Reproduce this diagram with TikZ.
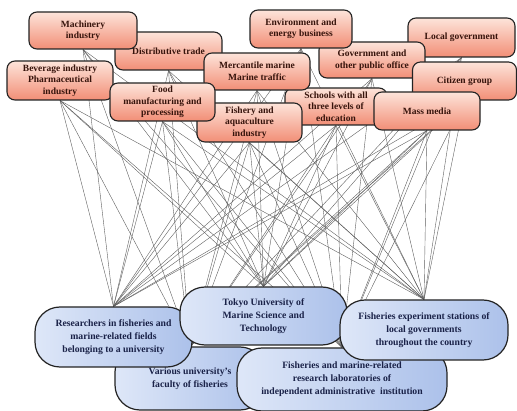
\documentclass[tikz,border=0pt]{standalone}
\usepackage{fontspec}
\setmainfont{Liberation Serif}
\pgfdeclarelayer{background}
\pgfsetlayers{background,main}
\definecolor{toptxt}{RGB}{55,20,12}
\definecolor{bottxt}{RGB}{26,34,72}
\definecolor{salmonA}{RGB}{253,228,218}
\definecolor{salmonB}{RGB}{242,142,118}
\definecolor{blueA}{RGB}{222,231,248}
\definecolor{blueB}{RGB}{172,193,234}
\definecolor{edgecol}{RGB}{35,35,35}
\definecolor{linkcol}{RGB}{95,95,95}
\tikzset{
  topbox/.style={draw=edgecol, line width=1.1pt, rounded corners=8pt,
    top color=salmonA, bottom color=salmonB, align=center,
    font=\bfseries\fontsize{9.5}{11.5}\selectfont, text=toptxt, inner sep=1pt},
  botbox/.style={draw=edgecol, line width=1.2pt, rounded corners=25pt,
    left color=blueA, right color=blueB, align=center,
    font=\bfseries\fontsize{9.7}{13}\selectfont, text=bottxt, inner sep=1pt},
  link/.style={draw=linkcol, line width=0.4pt}
}
\begin{document}
\begin{tikzpicture}[x=1pt,y=-1pt]
\useasboundingbox (0,0) rectangle (517,411);
% top boxes (drawing order matters)
\node[topbox, minimum width=102pt, minimum height=37pt] (sch) at (336,106.5) {Schools with all\\three levels of\\education};
\node[topbox, minimum width=107pt, minimum height=38pt] (dis) at (168.5,51) {Distributive trade};
\node[topbox, minimum width=108pt, minimum height=37pt] (mac) at (83,30.5) {Machinery\\industry};
\node[topbox, minimum width=106pt, minimum height=39pt] (bev) at (60,80.5) {Beverage industry\\Pharmaceutical\\industry};
\node[topbox, minimum width=106pt, minimum height=37pt] (mer) at (257,71.5) {Mercantile marine\\Marine traffic};
\node[topbox, minimum width=105pt, minimum height=39pt] (fis) at (249.5,122.5) {Fishery and\\aquaculture\\industry};
\node[topbox, minimum width=105pt, minimum height=38pt] (foo) at (162.5,102) {Food\\manufacturing and\\processing};
\node[topbox, minimum width=107pt, minimum height=39pt] (loc) at (461.5,37.5) {Local government};
\node[topbox, minimum width=106pt, minimum height=36pt] (gov) at (372,60) {Government and\\other public office};
\node[topbox, minimum width=102pt, minimum height=38pt] (env) at (301,29) {Environment and\\energy business};
\node[topbox, minimum width=104pt, minimum height=38pt] (cit) at (464.5,81) {Citizen group};
\node[topbox, minimum width=106pt, minimum height=38pt] (mas) at (427,111) {Mass media};
% bottom boxes
\node[botbox, minimum width=150pt, minimum height=63pt] (var) at (190,378.5) {Various university's\\faculty of fisheries};
\node[botbox, minimum width=210pt, minimum height=63pt] (lab) at (342,379.5) {Fisheries and marine-related\\research laboratories of\\independent administrative\ \ institution};
\node[botbox, minimum width=157pt, minimum height=60pt] (res) at (113.5,337) {Researchers in fisheries and\\marine-related fields\\belonging to a university};
\node[botbox, minimum width=167pt, minimum height=58pt] (tok) at (263.5,316) {Tokyo University of\\Marine Science and\\Technology};
\node[botbox, minimum width=168pt, minimum height=60pt] (exp) at (424,330) {Fisheries experiment stations of\\local governments\\throughout the country};
% connectors
\begin{pgfonlayer}{background}
\foreach \t in {sch,dis,mac,bev,mer,fis,foo,loc,gov,env,cit,mas}{
  \foreach \b in {var,lab,res,tok,exp}{
    \draw[link] (\t.south) -- (\b.north);
  }
}
\end{pgfonlayer}
\end{tikzpicture}
\end{document}
